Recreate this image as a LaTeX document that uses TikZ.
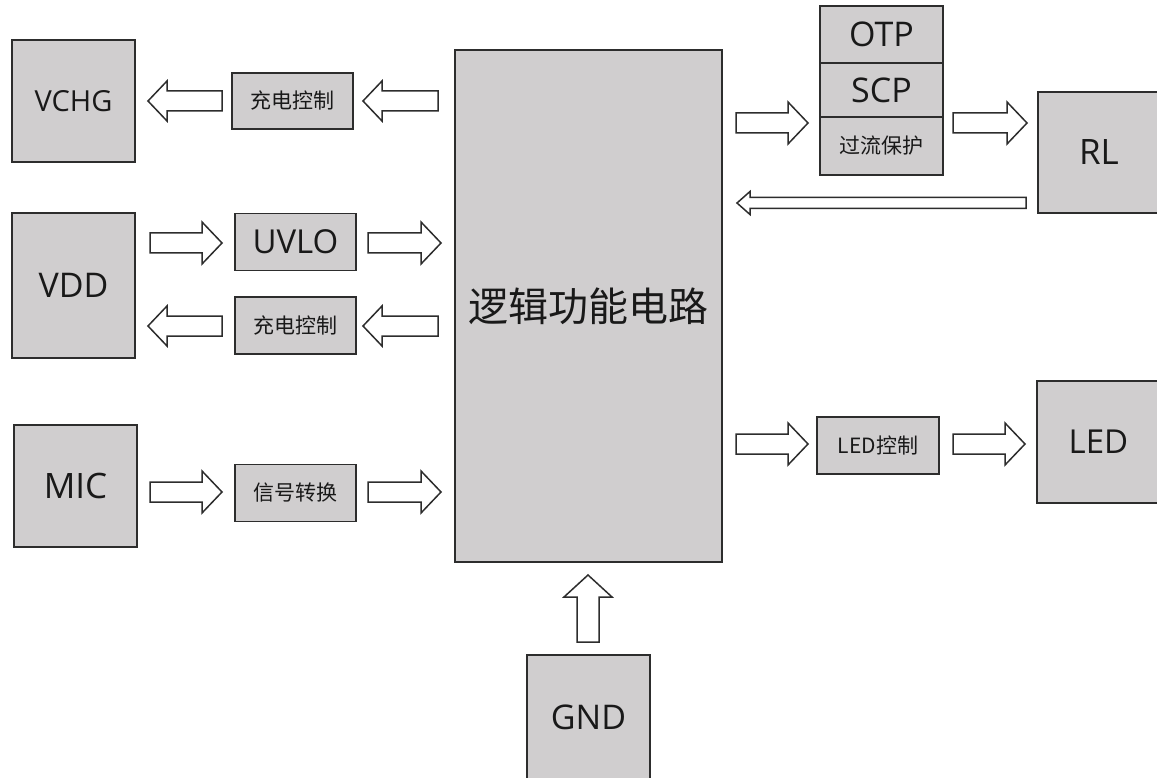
\documentclass[tikz,border=0pt]{standalone}
\usepackage{fontspec}
\setmainfont{Open Sans}
\newfontfamily\cjk{Noto Sans CJK SC}
\usetikzlibrary{calc}
\definecolor{boxfill}{RGB}{208,206,207}
\definecolor{edge}{RGB}{45,45,45}
\definecolor{ink}{RGB}{25,25,25}
% #1 tail, #2 tip, #3 shaft half width, #4 head half width, #5 head length
\newcommand\blockarrow[5]{%
  \coordinate (ba-h) at ($(#2)!#5!(#1)$);
  \draw[barrow] ($(#1)!#3!90:(#2)$) -- ($(ba-h)!#3!90:(#2)$) -- ($(ba-h)!#4!90:(#2)$) -- (#2)
    -- ($(ba-h)!#4!-90:(#2)$) -- ($(ba-h)!#3!-90:(#2)$) -- ($(#1)!#3!-90:(#2)$) -- cycle;}
\begin{document}
\begin{tikzpicture}[x=1pt,y=-1pt,
  box/.style={draw=edge, fill=boxfill, line width=1.8pt, text=ink, inner sep=0pt,
    font=\fontsize{34}{38}\selectfont},
  small/.style={box, font=\cjk\fontsize{21}{24}\selectfont},
  barrow/.style={draw=edge, fill=white, line width=1.5pt, line join=miter}]
\useasboundingbox (0,0) rectangle (1157,778);
\fill[white] (0,0) rectangle (1157,778);
% left column
\node[box, minimum width=123pt, minimum height=122pt, font=\fontsize{29}{32}\selectfont] (vchg) at (73.5,101) {VCHG};
\node[small, minimum width=121pt, minimum height=56pt] (c1) at (292.5,101) {充电控制};
\node[box, minimum width=123pt, minimum height=145pt] (vdd) at (73.5,285.5) {VDD};
\node[box, minimum width=121pt, minimum height=57pt, font=\fontsize{33}{36}\selectfont] (uvlo) at (295.5,242) {UVLO};
\node[small, minimum width=121pt, minimum height=57pt] (c2) at (295.5,325.5) {充电控制};
\node[box, minimum width=123pt, minimum height=122pt, font=\fontsize{35}{38}\selectfont] (mic) at (75.5,486) {MIC};
\node[small, minimum width=121pt, minimum height=57pt] (sig) at (295.5,493) {信号转换};
% main
\node[box, minimum width=267pt, minimum height=512pt, font=\cjk\fontsize{40}{44}\selectfont] (main) at (588.5,306) {逻辑功能电路};
% right side
\node[box, minimum width=123pt, minimum height=57pt] (otp) at (881.5,34.5) {OTP};
\node[box, minimum width=123pt, minimum height=54pt] (scp) at (881.5,90) {SCP};
\node[small, minimum width=123pt, minimum height=58pt] (ocp) at (881.5,146) {过流保护};
\node[box, minimum width=122pt, minimum height=121pt, font=\fontsize{35}{38}\selectfont] (rl) at (1099,152.5) {RL};
\node[small, minimum width=122pt, minimum height=57pt] (ledc) at (878,445.5) {LED控制};
\node[box, minimum width=123pt, minimum height=122pt, font=\fontsize{33}{36}\selectfont] (led) at (1098.5,442) {LED};
\node[box, minimum width=123pt, minimum height=125pt] (gnd) at (588.5,717.5) {GND};
% arrows
\blockarrow{222,101}{148,101}{10pt}{20pt}{19pt}
\blockarrow{438,101}{363,101}{10pt}{20pt}{19pt}
\blockarrow{150,243}{222,243}{10pt}{21pt}{20pt}
\blockarrow{368,243}{441,243}{10pt}{21pt}{20pt}
\blockarrow{222,326}{148,326}{10pt}{20pt}{19pt}
\blockarrow{438,326}{363,326}{10pt}{20pt}{19pt}
\blockarrow{150,492}{222,492}{10pt}{21pt}{20pt}
\blockarrow{368,492}{441,492}{10pt}{21pt}{20pt}
\blockarrow{736,123}{808,123}{10pt}{21pt}{20pt}
\blockarrow{953,123}{1027,123}{10pt}{21pt}{20pt}
\blockarrow{1026,203}{737,203}{5.5pt}{11.5pt}{13pt}
\blockarrow{736,444}{808,444}{10pt}{21pt}{20pt}
\blockarrow{953,444}{1025,444}{10pt}{21pt}{20pt}
\blockarrow{588,642}{588,575}{11pt}{24pt}{22pt}
\end{tikzpicture}
\end{document}
